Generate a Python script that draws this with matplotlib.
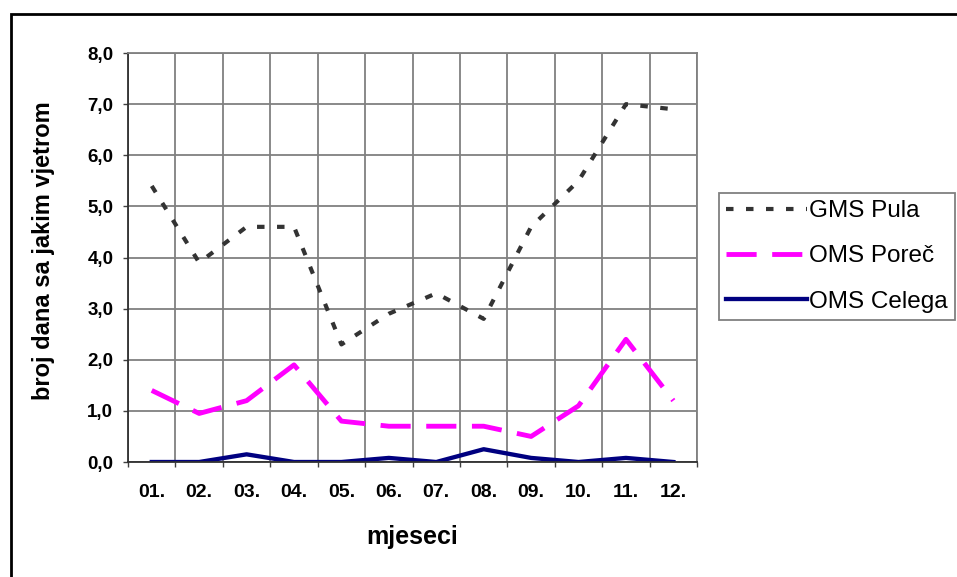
import numpy as np
import matplotlib.pyplot as plt
from matplotlib.patches import Rectangle

mjeseci = ["01.", "02.", "03.", "04.", "05.", "06.", "07.", "08.", "09.", "10.", "11.", "12."]
gms_pula = [5.4, 3.9, 4.6, 4.6, 2.3, 2.9, 3.3, 2.8, 4.6, 5.5, 7.0, 6.9]
oms_porec = [1.4, 0.95, 1.2, 1.9, 0.8, 0.7, 0.7, 0.7, 0.5, 1.1, 2.4, 1.2]
oms_celega = [0.0, 0.0, 0.15, 0.0, 0.0, 0.08, 0.0, 0.25, 0.08, 0.0, 0.08, 0.0]
y_oznake = [0, 1, 2, 3, 4, 5, 6, 7, 8]

plt.rcParams["font.family"] = ["Liberation Sans", "DejaVu Sans"]

fig = plt.figure(figsize=(9.57, 5.77), dpi=100)
ax = fig.add_axes([0.1338, 0.1993, 0.5946, 0.7088])

x = np.arange(1, len(mjeseci) + 1)
ax.plot(x, gms_pula, c="#333333", linewidth=3.0, ls=(0, (1.8, 3.0)), label="GMS Pula")
ax.plot(x, oms_porec, c="#ff00ff", linewidth=3.5, ls=(0, (6.2, 3.2)), label="OMS Poreč")
ax.plot(x, oms_celega, c="#000080", linewidth=3.1, label="OMS Celega")

ax.set_xlim(0.5, 12.5)
ax.set_ylim(0, 8)

# mreza na granicama mjeseci, oznake u sredini
ax.set_xticks(np.arange(0.5, 12.6, 1))
ax.set_xticklabels([])
ax.set_xticks(x, minor=True)
ax.set_xticklabels(mjeseci, minor=True, fontsize=14, fontweight="bold")
ax.tick_params(axis="x", which="minor", length=0, pad=16)
ax.tick_params(axis="x", which="major", length=3.6, width=1, color="#404040", direction="out")

ax.set_yticks(y_oznake)
ax.set_yticklabels([f"{v:.1f}".replace(".", ",") for v in y_oznake], fontsize=13.5, fontweight="bold")
ax.tick_params(axis="y", length=3.6, width=1, color="#404040", direction="out", pad=7)

ax.set_axisbelow(True)
ax.grid(True, which="major", color="#808080", linewidth=1.3)

for s in ["top", "right"]:
    ax.spines[s].set_color("#808080")
    ax.spines[s].set_linewidth(1.3)
for s in ["left", "bottom"]:
    ax.spines[s].set_color("#303030")
    ax.spines[s].set_linewidth(1.3)

ax.set_ylabel("broj dana sa jakim vjetrom", fontsize=17, fontweight="bold")
ax.yaxis.set_label_coords(-0.128, 0.516)
ax.set_xlabel("mjeseci", fontsize=18, fontweight="bold")
ax.xaxis.set_label_coords(0.5, -0.155)

leg = fig.legend(loc="upper left", bbox_to_anchor=(719 / 957, 1 - 193 / 577),
                 fontsize=17.5, frameon=True, fancybox=False, framealpha=1,
                 edgecolor="#808080", borderaxespad=0, borderpad=0.3,
                 handlelength=3.3, handletextpad=0.1, labelspacing=0.95)
leg.get_frame().set_linewidth(1.3)

# okvir oko cijelog grafikona
fig.add_artist(Rectangle((11 / 957, -0.05), 1.2, 1 - 14 / 577 + 0.05, fill=False,
                         ec="black", lw=2, transform=fig.transFigure))

plt.savefig("out.png", dpi=100)
